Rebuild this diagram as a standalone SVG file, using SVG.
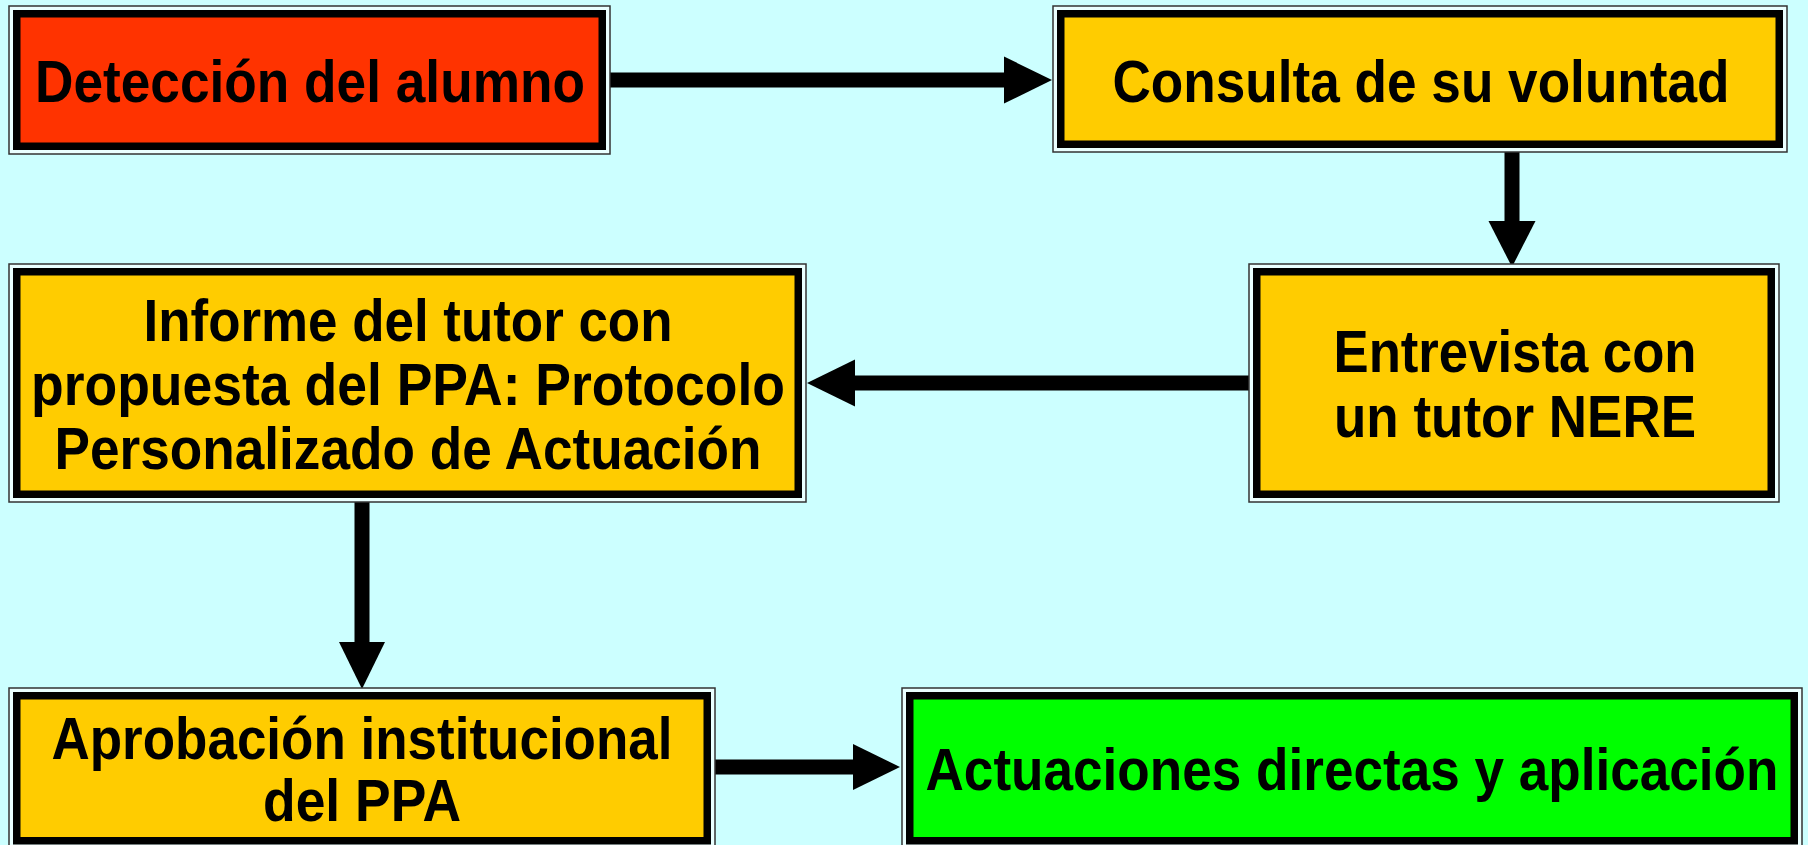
<svg xmlns="http://www.w3.org/2000/svg" width="1808" height="845" viewBox="0 0 1808 845">
<defs>
<style>
.outer{fill:#EAFFFF;stroke:#333;stroke-width:1.5}
.frame{stroke:#000;stroke-width:7.5}
.red{fill:#FF3300}
.yel{fill:#FFCC00}
.grn{fill:#00FF00}
text{font-family:"Liberation Sans",Arial,sans-serif;font-weight:bold;font-size:60px;fill:#000;text-anchor:middle}
.shaft{stroke:#000;stroke-width:15;fill:none}
.head{fill:#000}
</style>
</defs>
<rect x="0" y="0" width="1808" height="845" fill="#CCFFFF"/>
<g id="connectors">
<line class="shaft" x1="610" y1="80" x2="1006" y2="80"/>
<polygon class="head" points="1004,56.5 1052,80 1004,103.5"/>
<line class="shaft" x1="1512" y1="152" x2="1512" y2="223"/>
<polygon class="head" points="1488.5,221 1512,267 1535.5,221"/>
<line class="shaft" x1="1249" y1="383" x2="853" y2="383"/>
<polygon class="head" points="855,359.5 807,383 855,406.5"/>
<line class="shaft" x1="362" y1="502" x2="362" y2="644"/>
<polygon class="head" points="339,642 362,689 385,642"/>
<line class="shaft" x1="715" y1="767" x2="855" y2="767"/>
<polygon class="head" points="853,744 900,767 853,790"/>
</g>
<g id="n1">
<rect class="outer" x="9" y="6" width="601" height="148"/>
<rect class="frame red" x="16.75" y="13.75" width="585.5" height="132.5"/>
<text x="310" y="102" textLength="550" lengthAdjust="spacingAndGlyphs">Detección del alumno</text>
</g>
<g id="n2">
<rect class="outer" x="1053" y="6" width="734" height="146"/>
<rect class="frame yel" x="1060.75" y="13.75" width="718.5" height="130.5"/>
<text x="1421" y="102" textLength="617" lengthAdjust="spacingAndGlyphs">Consulta de su voluntad</text>
</g>
<g id="n3">
<rect class="outer" x="1249" y="264" width="530" height="238"/>
<rect class="frame yel" x="1256.75" y="271.75" width="514.5" height="222.5"/>
<text x="1515" y="372" textLength="363" lengthAdjust="spacingAndGlyphs">Entrevista con</text>
<text x="1515" y="437" textLength="362" lengthAdjust="spacingAndGlyphs">un tutor NERE</text>
</g>
<g id="n4">
<rect class="outer" x="9" y="264" width="797" height="238"/>
<rect class="frame yel" x="16.75" y="271.75" width="781.5" height="222.5"/>
<text x="408" y="341" textLength="529" lengthAdjust="spacingAndGlyphs">Informe del tutor con</text>
<text x="408" y="405" textLength="754" lengthAdjust="spacingAndGlyphs">propuesta del PPA: Protocolo</text>
<text x="408" y="469" textLength="707" lengthAdjust="spacingAndGlyphs">Personalizado de Actuación</text>
</g>
<g id="n5">
<rect class="outer" x="9" y="688" width="706" height="162"/>
<rect class="frame yel" x="16.75" y="695.75" width="690.5" height="145"/>
<text x="362" y="759" textLength="621" lengthAdjust="spacingAndGlyphs">Aprobación institucional</text>
<text x="362" y="821" textLength="198" lengthAdjust="spacingAndGlyphs">del PPA</text>
</g>
<g id="n6">
<rect class="outer" x="902" y="688" width="900" height="162"/>
<rect class="frame grn" x="909.75" y="695.75" width="884.5" height="145"/>
<text x="1352" y="790" textLength="853" lengthAdjust="spacingAndGlyphs">Actuaciones directas y aplicación</text>
</g>
</svg>
